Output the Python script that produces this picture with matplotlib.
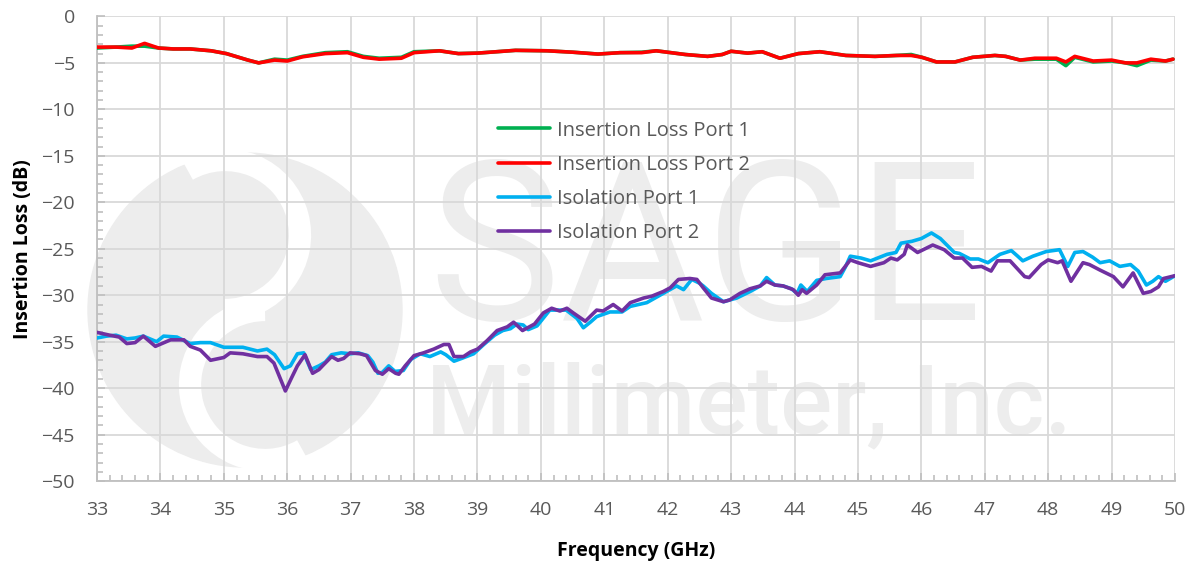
import matplotlib
matplotlib.use("Agg")
import matplotlib.pyplot as plt
from matplotlib.patches import Circle, Arc

# ---- data ----
il1_f = [33.0, 33.3, 33.55, 33.75, 33.97, 34.2, 34.47, 34.8, 35.04, 35.38, 35.55, 35.8, 36.0, 36.24,
         36.6, 36.95, 37.2, 37.45, 37.8, 38.0, 38.4, 38.7, 39.0, 39.6, 40.1, 40.5, 40.9, 41.25, 41.59,
         41.82, 42.28, 42.63, 42.86, 43.0, 43.26, 43.49, 43.77, 44.06, 44.4, 44.81, 45.27, 45.61,
         45.84, 46.01, 46.24, 46.53, 46.81, 47.16, 47.33, 47.56, 47.79, 48.13, 48.28, 48.42, 48.71,
         49.0, 49.22, 49.4, 49.62, 49.85, 49.97]
il1_db = [-3.4, -3.3, -3.2, -3.2, -3.4, -3.5, -3.5, -3.7, -4.0, -4.7, -5.0, -4.6, -4.7, -4.3,
          -3.9, -3.8, -4.3, -4.5, -4.4, -3.8, -3.7, -4.0, -3.95, -3.65, -3.7, -3.85, -4.05, -3.9, -3.85,
          -3.7, -4.1, -4.3, -4.1, -3.75, -3.95, -3.8, -4.5, -4.0, -3.8, -4.2, -4.3, -4.2,
          -4.1, -4.4, -4.9, -4.9, -4.4, -4.2, -4.3, -4.7, -4.6, -4.6, -5.3, -4.4, -4.9,
          -4.8, -5.0, -5.3, -4.7, -4.8, -4.6]

il2_f = il1_f
il2_db = [-3.3, -3.3, -3.4, -2.9, -3.4, -3.5, -3.5, -3.7, -4.0, -4.7, -5.0, -4.7, -4.8, -4.35,
          -4.0, -3.9, -4.4, -4.6, -4.5, -3.9, -3.7, -4.0, -3.95, -3.65, -3.7, -3.85, -4.05, -3.9, -3.9,
          -3.7, -4.1, -4.3, -4.1, -3.75, -3.95, -3.8, -4.5, -4.0, -3.8, -4.2, -4.3, -4.2,
          -4.2, -4.4, -4.9, -4.9, -4.4, -4.2, -4.3, -4.7, -4.5, -4.5, -4.9, -4.3, -4.8,
          -4.7, -5.0, -5.0, -4.6, -4.8, -4.6]

iso1_f = [33.0, 33.15, 33.3, 33.47, 33.6, 33.73, 33.94, 34.05, 34.26, 34.47, 34.63, 34.79, 35.0, 35.3,
          35.53, 35.68, 35.8, 35.95, 36.05, 36.16, 36.26, 36.37, 36.5, 36.6, 36.7, 36.85, 37.0, 37.12,
          37.27, 37.35, 37.43, 37.5, 37.6, 37.7, 37.83, 37.95, 38.1, 38.25, 38.42, 38.5, 38.63, 38.75,
          38.94, 39.1, 39.27, 39.4, 39.52, 39.62, 39.72, 39.8, 39.94, 40.14, 40.4, 40.57, 40.67, 40.78,
          40.88, 41.09, 41.28, 41.41, 41.67, 41.93, 42.14, 42.25, 42.38, 42.5, 42.56, 42.69, 42.88,
          43.09, 43.3, 43.46, 43.56, 43.69, 43.82, 43.95, 44.04, 44.1, 44.2, 44.35, 44.5, 44.72, 44.8,
          44.88, 45.05, 45.2, 45.46, 45.6, 45.68, 45.85, 46.0, 46.16, 46.3, 46.52, 46.6, 46.77, 46.9,
          47.05, 47.24, 47.42, 47.52, 47.6, 47.76, 47.97, 48.18, 48.31, 48.42, 48.55, 48.7, 48.82,
          48.97, 49.13, 49.3, 49.42, 49.55, 49.65, 49.74, 49.85, 50.0]
iso1_db = [-34.6, -34.4, -34.3, -34.7, -34.6, -34.4, -35.0, -34.4, -34.5, -35.2, -35.1, -35.1, -35.6, -35.6,
           -36.0, -35.8, -36.4, -37.9, -37.6, -36.3, -36.2, -38.0, -37.6, -37.2, -36.4, -36.2, -36.3, -36.2,
           -36.5, -37.2, -38.4, -38.3, -37.6, -38.2, -38.1, -36.9, -36.3, -36.6, -36.1, -36.4, -37.1, -36.8,
           -36.3, -35.3, -34.3, -33.8, -33.6, -33.1, -33.2, -33.7, -33.3, -31.6, -31.6, -32.5, -33.5, -32.9,
           -32.3, -31.8, -31.8, -31.2, -30.8, -29.8, -29.0, -29.4, -28.3, -28.7, -29.0, -29.8, -30.7,
           -30.3, -29.6, -29.0, -28.1, -28.9, -29.0, -29.3, -29.8, -28.9, -29.6, -28.4, -28.2, -28.0, -27.0,
           -25.8, -26.0, -26.3, -25.6, -25.4, -24.4, -24.2, -23.9, -23.3, -23.9, -25.4, -25.5, -26.1, -26.1,
           -26.5, -25.6, -25.2, -25.8, -26.3, -25.8, -25.3, -25.1, -26.9, -25.4, -25.3, -25.9, -26.5,
           -26.3, -26.9, -26.7, -27.4, -28.9, -28.5, -28.0, -28.5, -27.9]

iso2_f = [33.0, 33.2, 33.35, 33.47, 33.6, 33.73, 33.92, 34.16, 34.37, 34.47, 34.63, 34.79, 35.0, 35.1,
          35.3, 35.53, 35.68, 35.79, 35.97, 36.06, 36.16, 36.28, 36.4, 36.5, 36.57, 36.7, 36.8, 36.89,
          36.99, 37.15, 37.25, 37.39, 37.5, 37.6, 37.71, 37.76, 37.86, 38.0, 38.15, 38.31, 38.47, 38.55,
          38.63, 38.78, 38.89, 39.0, 39.15, 39.31, 39.47, 39.57, 39.71, 39.9, 40.04, 40.17, 40.3, 40.41,
          40.51, 40.7, 40.88, 40.98, 41.14, 41.28, 41.41, 41.62, 41.75, 41.93, 42.04, 42.17, 42.35,
          42.46, 42.56, 42.69, 42.88, 42.98, 43.14, 43.3, 43.46, 43.56, 43.69, 43.82, 43.98, 44.06,
          44.12, 44.19, 44.35, 44.48, 44.72, 44.88, 45.0, 45.2, 45.41, 45.52, 45.62, 45.73, 45.78,
          45.94, 46.18, 46.36, 46.52, 46.65, 46.8, 46.95, 47.1, 47.2, 47.4, 47.63, 47.7, 47.89, 48.0,
          48.15, 48.22, 48.36, 48.55, 48.65, 48.82, 49.03, 49.18, 49.34, 49.5, 49.62, 49.74, 49.82, 50.0]
iso2_db = [-34.0, -34.3, -34.5, -35.2, -35.1, -34.4, -35.5, -34.8, -34.8, -35.5, -35.9, -37.0, -36.7, -36.2,
           -36.3, -36.6, -36.6, -37.3, -40.3, -39.0, -37.6, -36.4, -38.4, -38.0, -37.5, -36.6, -37.0, -36.8,
           -36.2, -36.3, -36.5, -38.1, -38.5, -37.9, -38.4, -38.5, -37.6, -36.5, -36.2, -35.8, -35.3, -35.3,
           -36.6, -36.6, -36.1, -35.8, -34.9, -33.8, -33.4, -32.9, -33.8, -33.1, -31.9, -31.4, -31.7, -31.4,
           -31.9, -32.8, -31.6, -31.7, -31.0, -31.7, -30.8, -30.3, -30.1, -29.6, -29.2, -28.3, -28.2,
           -28.3, -29.2, -30.3, -30.7, -30.5, -29.8, -29.3, -29.0, -28.5, -28.9, -29.0, -29.4, -30.0,
           -29.4, -29.8, -28.9, -27.8, -27.6, -26.2, -26.5, -26.9, -26.5, -26.0, -26.2, -25.6, -24.6,
           -25.4, -24.6, -25.1, -26.0, -26.0, -27.0, -26.9, -27.4, -26.3, -26.3, -28.0, -28.1, -26.7, -26.2,
           -26.5, -26.3, -28.5, -26.5, -26.7, -27.3, -28.0, -29.1, -27.6, -29.8, -29.6, -29.1, -28.2, -27.9]

series = [
    ("Insertion Loss Port 1", il1_f, il1_db, "#00B050"),
    ("Insertion Loss Port 2", il2_f, il2_db, "#FF0000"),
    ("Isolation Port 1", iso1_f, iso1_db, "#00B0F0"),
    ("Isolation Port 2", iso2_f, iso2_db, "#7030A0"),
]

plt.rcParams["font.family"] = ["Open Sans", "DejaVu Sans"]
tick_col = "#595959"
grid_col = "#d9d9d9"

fig = plt.figure(figsize=(11.92, 5.66), dpi=100)
ax = fig.add_axes([0.0814, 0.150, 0.9043, 0.821])
ax.set_facecolor("none")
ax.set_zorder(2)

# watermark (logo + company name), behind the axes; pixel coords from bottom-left
wm = "#ededed"
fig.add_artist(Circle((245, 256), 157, transform=None, color=wm, zorder=-2))
fig.add_artist(Arc((265, 181), 150, 150, theta1=90, theta2=300, transform=None,
                   color="white", lw=16, zorder=-1))
fig.add_artist(Arc((225, 331), 150, 150, theta1=270, theta2=480, transform=None,
                   color="white", lw=16, zorder=-1))
fig.text(0.592, 0.543, "SAGE", fontsize=160, color=wm, ha="center", va="center",
         family=["Roboto", "DejaVu Sans"], zorder=-1)
fig.text(0.628, 0.280, "Millimeter, Inc.", fontsize=70, color=wm, ha="center", va="center",
         family=["Roboto", "DejaVu Sans"], fontweight="medium", zorder=-1)

for name, f, db, col in series:
    ax.plot(f, db, color=col, lw=2.6, label=name, solid_joinstyle="round",
            solid_capstyle="round", zorder=3)

ax.set_xlim(33, 50)
ax.set_ylim(-50, 0)
ax.set_xticks(range(33, 51))
ax.set_yticks(range(-50, 1, 5))
ax.set_xticks([33 + 0.2 * i for i in range(86)], minor=True)
ax.set_yticks(range(-50, 1), minor=True)
ax.grid(True, which="major", color=grid_col, lw=1.3, zorder=1)
ax.set_axisbelow(True)

for s in ["top", "right"]:
    ax.spines[s].set_visible(False)
for s in ["left", "bottom"]:
    ax.spines[s].set_color("#bfbfbf")
    ax.spines[s].set_linewidth(1.3)

ax.tick_params(axis="both", which="both", direction="in", color="#bfbfbf", width=1.2)
ax.tick_params(axis="both", which="major", length=6, labelsize=14, labelcolor=tick_col)
ax.tick_params(axis="both", which="minor", length=4)
ax.tick_params(axis="x", which="major", pad=14)
ax.tick_params(axis="y", which="major", pad=16)

ax.set_xlabel("Frequency (GHz)", fontsize=14, fontweight="bold", labelpad=16)
ax.set_ylabel("Insertion Loss (dB)", fontsize=14, fontweight="bold", labelpad=6)

leg = ax.legend(loc="upper left", bbox_to_anchor=(0.355, 0.815), frameon=False, fontsize=14.5,
                handlelength=2.6, handletextpad=0.35, labelspacing=0.7)
for t in leg.get_texts():
    t.set_color(tick_col)

fig.savefig("out.png", dpi=100)
